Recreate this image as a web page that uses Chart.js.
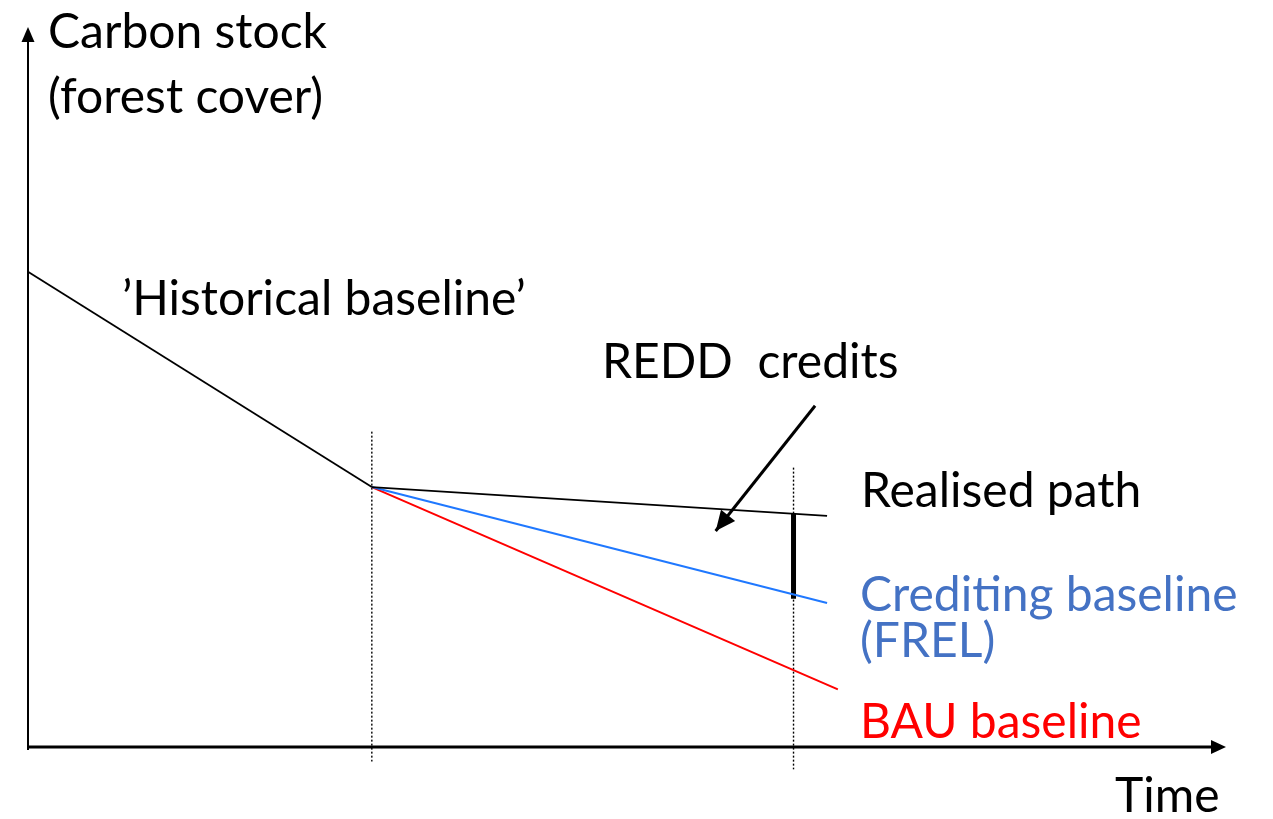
<!DOCTYPE html>
<html>
<head>
<meta charset="utf-8">
<title>REDD crediting baseline</title>
<script src="https://cdn.jsdelivr.net/npm/chart.js@4.4.1/dist/chart.umd.min.js"></script>
<style>
    html, body { margin: 0; padding: 0; background: #ffffff; }
    #wrap { width: 1273px; height: 819px; }
</style>
</head>
<body>
<div id="wrap"><canvas id="reddChart" width="1273" height="819"></canvas></div>
<script>
// Values (time 0-100, carbon stock 0-100)
const historicalTime = [0, 28.7];
const historicalStock = [66.0, 36.1];
const realisedTime = [28.7, 66.7];
const realisedStock = [36.1, 32.1];
const creditingTime = [28.7, 66.7];
const creditingStock = [36.1, 20.0];
const bauTime = [28.7, 67.6];
const bauStock = [36.1, 8.0];
const markerTimes = [28.7, 63.9];
const markerTops = [43.8, 38.8];
const markerBottoms = [-2.0, -3.1];
const creditTime = 63.9;
const creditGap = [32.4, 20.6];
const creditArrowTime = [65.7, 57.4];
const creditArrowStock = [47.4, 30.0];

const labels = {
    yTitle: ["Carbon stock", "(forest cover)"],
    xTitle: "Time",
    historical: "\u2019Historical baseline\u2019",
    credits: "REDD  credits",
    realised: "Realised path",
    crediting: ["Crediting baseline", "(FREL)"],
    bau: "BAU baseline"
};

const pts = (xs, ys) => xs.map((x, i) => ({ x: x, y: ys[i] }));

const lineSet = (data, color, width, extra) => Object.assign({
    data: data,
    borderColor: color,
    borderWidth: width,
    pointRadius: 0,
    showLine: true,
    fill: false,
    clip: false
}, extra || {});

const datasets = [
    lineSet(pts(historicalTime, historicalStock), '#000000', 1.8),
    lineSet(pts(realisedTime, realisedStock), '#000000', 1.8),
    lineSet(pts(creditingTime, creditingStock), '#1f78ff', 2),
    lineSet(pts(bauTime, bauStock), '#ff0000', 2),
    lineSet(pts([creditTime, creditTime], creditGap), '#000000', 5, { borderCapStyle: 'butt' }),
    lineSet(pts(creditArrowTime, creditArrowStock), '#000000', 3, { arrowHead: true })
];
markerTimes.forEach((t, i) => {
    datasets.push(lineSet(pts([t, t], [markerTops[i], markerBottoms[i]]), '#000000', 1.4, { borderDash: [2, 2] }));
});

const FONT = '48px Lato, "Open Sans", sans-serif';

function arrowHead(ctx, x0, y0, x1, y1, len, half) {
    const a = Math.atan2(y1 - y0, x1 - x0);
    ctx.beginPath();
    ctx.moveTo(x1, y1);
    ctx.lineTo(x1 - len * Math.cos(a) + half * Math.sin(a), y1 - len * Math.sin(a) - half * Math.cos(a));
    ctx.lineTo(x1 - len * Math.cos(a) - half * Math.sin(a), y1 - len * Math.sin(a) + half * Math.cos(a));
    ctx.closePath();
    ctx.fill();
}

// Axes with arrowheads, the credits arrow tip and all text labels
const sketchPlugin = {
    id: 'sketch',
    afterDatasetsDraw(chart) {
        const { ctx, chartArea: a } = chart;
        ctx.save();
        ctx.fillStyle = '#000';
        ctx.strokeStyle = '#000';

        // y axis
        ctx.lineWidth = 2;
        ctx.beginPath();
        ctx.moveTo(a.left, a.bottom + 3);
        ctx.lineTo(a.left, a.top + 10);
        ctx.stroke();
        arrowHead(ctx, a.left, a.bottom, a.left, a.top, 15, 6.5);

        // x axis
        ctx.lineWidth = 3;
        ctx.beginPath();
        ctx.moveTo(a.left - 1, a.bottom);
        ctx.lineTo(a.right - 10, a.bottom);
        ctx.stroke();
        arrowHead(ctx, a.left, a.bottom, a.right, a.bottom, 15, 7);

        // REDD credits arrow head
        chart.data.datasets.forEach((ds, i) => {
            if (!ds.arrowHead) return;
            const p = chart.getDatasetMeta(i).data;
            arrowHead(ctx, p[0].x, p[0].y, p[1].x, p[1].y, 20, 9);
        });

        ctx.font = FONT;
        ctx.textAlign = 'left';
        ctx.textBaseline = 'alphabetic';
        ctx.fillStyle = '#000';
        ctx.fillText(labels.yTitle[0], a.left + 20, 48);
        ctx.fillText(labels.yTitle[1], a.left + 20, 113);
        ctx.fillText(labels.historical, 122, 315);
        ctx.fillText(labels.credits, 602, 378);
        ctx.fillText(labels.realised, 861, 507);
        ctx.fillText(labels.xTitle, 1115, 812);
        ctx.fillStyle = '#4472c4';
        ctx.fillText(labels.crediting[0], 860, 611);
        ctx.fillText(labels.crediting[1], 860, 657);
        ctx.fillStyle = '#ff0000';
        ctx.fillText(labels.bau, 860, 738);
        ctx.restore();
    }
};

new Chart(document.getElementById('reddChart'), {
    type: 'scatter',
    data: { datasets: datasets },
    options: {
        responsive: false,
        animation: false,
        layout: { padding: { left: 28, right: 47, top: 27, bottom: 72 } },
        scales: {
            x: { type: 'linear', min: 0, max: 100, display: false },
            y: { type: 'linear', min: 0, max: 100, display: false }
        },
        plugins: {
            legend: { display: false },
            tooltip: { enabled: false }
        }
    },
    plugins: [sketchPlugin]
});
</script>
</body>
</html>
